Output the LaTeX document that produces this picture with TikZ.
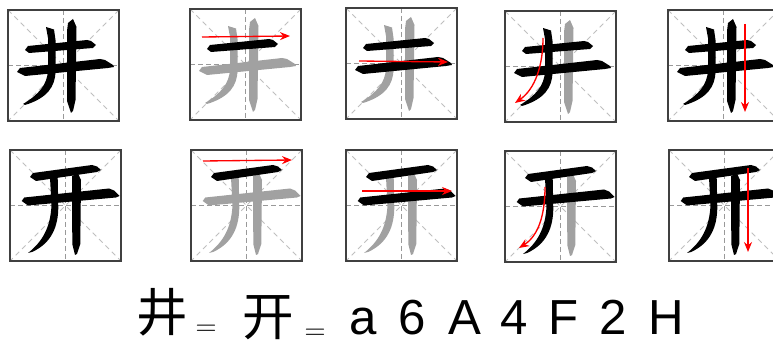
\documentclass[tikz,border=0pt]{standalone}
\usepackage{fontspec}
\setmainfont{Liberation Sans}
\newfontfamily\cjkfont{Noto Sans CJK SC}
\usetikzlibrary{arrows.meta}
\tikzset{
  cellframe/.style={draw=black!75,line width=0.4mm},
  midguide/.style={draw=black!40,line width=0.3mm,dash pattern=on 1.5mm off 0.9mm},
  diagguide/.style={draw=black!25,line width=0.3mm,dash pattern=on 1.5mm off 1.2mm},
  orderarrow/.style={draw=red,line width=0.4mm,-{Stealth[length=3mm,width=2.4mm]}},
  inkdone/.style={fill=black},
  inkwait/.style={fill=black!37},
  cjkch/.style={font=\cjkfont\fontsize{44}{44}\selectfont,inner sep=0pt},
  eqch/.style={font=\fontsize{30}{30}\selectfont,inner sep=0pt},
  latinch/.style={font=\fontsize{42}{42}\selectfont,inner sep=0pt,anchor=base}
}
% one writing cell: #1 top left corner, #2 what goes inside
\newcommand\gridcell[2]{%
  \begin{scope}[shift={#1}]
    \draw[diagguide] (0,0) -- (111,111) (111,0) -- (0,111);
    \draw[midguide] (55.5,0) -- (55.5,111) (0,55.5) -- (111,55.5);
    #2
    \draw[cellframe] (0,0) rectangle (111,111);
  \end{scope}}
% strokes of the two characters, last stroke drawn first
\newcommand\jingstrokes[4]{%
  \fill[#4] (60,13) -- (65,9) -- (68.5,17) -- (67.5,90) -- (65,101) -- (63,103) -- (59,91) -- (59,21) -- cycle;
  \fill[#3] (38,17) -- (46,19.5) -- (47.5,30) -- (47.5,62) .. controls (47,76) and (40,88) .. (17,95) -- (15,94) .. controls (30,85) and (39.5,75) .. (40,60) -- (40,28) -- cycle;
  \fill[#2] (9,62) -- (12,58) -- (92,49) -- (97,50) -- (105,55) -- (106,57) -- (100,58) -- (17,66) -- cycle;
  \fill[#1] (17,40) -- (20,36) -- (79,30) -- (83,31) -- (88,35) -- (85,38) -- (21,43) -- cycle;}
\newcommand\kaistrokes[4]{%
  \fill[#4] (62,26) -- (68,23.5) -- (71,30) -- (70.3,94) -- (67,104) -- (65,105) -- (62.3,94) -- cycle;
  \fill[#3] (40,27.5) -- (47.7,27) -- (48.3,58) .. controls (48,76) and (42,93) .. (22,102) -- (18,103) .. controls (32,92) and (40.5,78) .. (41.5,55) -- cycle;
  \fill[#2] (11.7,51) -- (14.3,47.5) -- (99,38.5) -- (104,40.5) -- (109.5,46) -- (106,47.5) -- (18,55.5) -- cycle;
  \fill[#1] (20,27) -- (23,23) -- (82,15) -- (87,16.5) -- (91,20) -- (87,22) -- (26,31) -- cycle;}

\begin{document}
\begin{tikzpicture}[x=0.3mm,y=-0.3mm]
  \useasboundingbox (0,0) rectangle (773,345);

  % first row
  \gridcell{(8,10)}{\jingstrokes{inkdone}{inkdone}{inkdone}{inkdone}}
  \gridcell{(190,9)}{\jingstrokes{inkdone}{inkwait}{inkwait}{inkwait}
    \draw[orderarrow] (12,28) -- (100,27);}
  \gridcell{(346,8)}{\jingstrokes{inkdone}{inkdone}{inkwait}{inkwait}
    \draw[orderarrow] (13,53) -- (102,54);}
  \gridcell{(505,11)}{\jingstrokes{inkdone}{inkdone}{inkdone}{inkwait}
    \draw[orderarrow] (38,27) .. controls (38,55) and (30,78) .. (10,92);}
  \gridcell{(668,10)}{\jingstrokes{inkdone}{inkdone}{inkdone}{inkdone}
    \draw[orderarrow] (77,14) -- (77,102);}

  % second row
  \gridcell{(10,150)}{\kaistrokes{inkdone}{inkdone}{inkdone}{inkdone}}
  \gridcell{(191,150)}{\kaistrokes{inkdone}{inkwait}{inkwait}{inkwait}
    \draw[orderarrow] (12,11) -- (101,10);}
  \gridcell{(346,150)}{\kaistrokes{inkdone}{inkdone}{inkwait}{inkwait}
    \draw[orderarrow] (16,41) -- (106,41);}
  \gridcell{(505,151)}{\kaistrokes{inkdone}{inkdone}{inkdone}{inkwait}
    \draw[orderarrow] (40,36) .. controls (40,65) and (33,85) .. (14,97);}
  \gridcell{(669,150)}{\kaistrokes{inkdone}{inkdone}{inkdone}{inkdone}
    \draw[orderarrow] (79,18) -- (79,102);}

  % bottom line
  \node[cjkch] (jing) at (162,312) {井};
  \node[eqch] (eqa) at (206,330) {$=$};
  \node[cjkch] (kai) at (268,318) {开};
  \node[eqch] (eqb) at (315,334) {$=$};
  \foreach \ch/\xx [count=\i] in {a/363,6/412,A/465,4/514,F/564,2/613,H/666}
    \node[latinch] (ch\i) at (\xx,335) {\ch};
\end{tikzpicture}
\end{document}
